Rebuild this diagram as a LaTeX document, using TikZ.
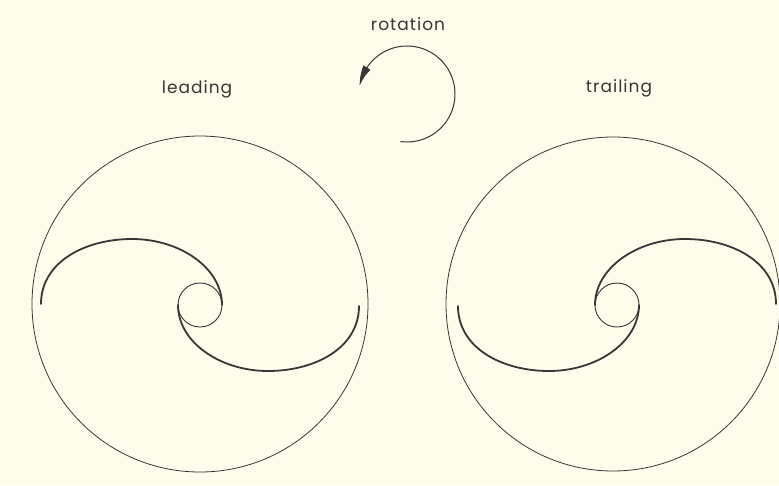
\documentclass[tikz,border=0pt]{standalone}
\usepackage{fontspec}
\setmainfont{Poppins}
\usetikzlibrary{arrows.meta,bending}
\definecolor{paper}{RGB}{254,252,235}
\definecolor{ink}{RGB}{55,55,55}
\tikzset{
  rim/.style={draw=ink, line width=0.8pt},
  hub/.style={draw=ink, line width=0.9pt},
  arm/.style={draw=ink, line width=1.8pt, line cap=round},
  label/.style={text=ink, font=\fontsize{17}{19}\selectfont\addfontfeature{LetterSpace=6}, anchor=base, inner sep=0pt},
}
\begin{document}
\begin{tikzpicture}[x=1pt, y=-1pt]
\fill[paper] (0,0) rectangle (779,485);
\useasboundingbox (0,0) rectangle (779,485);
% labels
\node[label] (rot) at (408,30) {rotation};
\node[label] (lead) at (197,93) {leading};
\node[label] (trail) at (619,92) {trailing};
% rotation arrow
\draw[ink, line width=1pt, -{Triangle[length=20pt,width=8pt,bend]}] (407,94) ++(98:48) arc[start angle=98, end angle=-170, radius=48];
% left wheel
\draw[rim] (200,304) circle[radius=168];
\draw[hub] (200,305) circle[radius=22];
\draw[arm] (41,304) .. controls (41,262) and (85,239) .. (132,239) .. controls (180,239) and (222,268) .. (222,305);
\draw[arm] (359,306) .. controls (359,348) and (315,371) .. (268,371) .. controls (220,371) and (178,342) .. (178,305);
% right wheel
\draw[rim] (613,304) circle[radius=167];
\draw[hub] (617,305) circle[radius=22];
\draw[arm] (776,304) .. controls (776,262) and (732,239) .. (685,239) .. controls (637,239) and (595,268) .. (595,305);
\draw[arm] (458,306) .. controls (458,348) and (502,371) .. (549,371) .. controls (597,371) and (639,342) .. (639,305);
\end{tikzpicture}
\end{document}
